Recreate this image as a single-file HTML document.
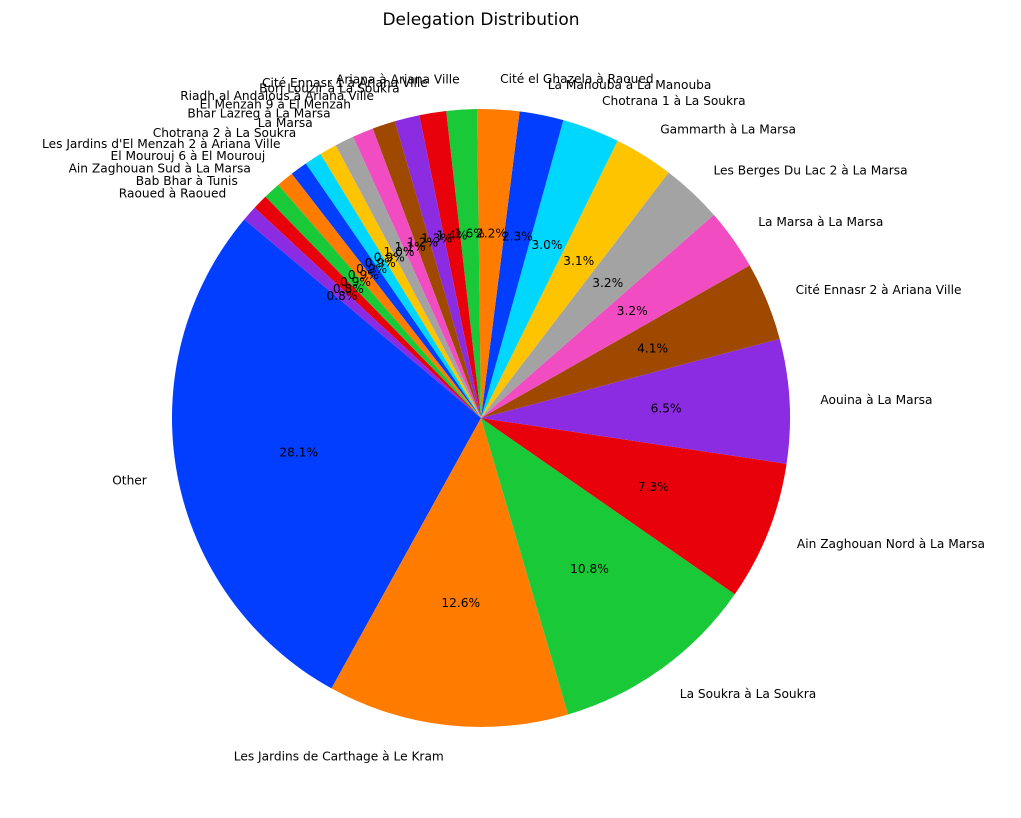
<!DOCTYPE html>
<html><head><meta charset="utf-8"><style>
html,body{margin:0;padding:0;background:#fff;}
svg text{font-family:"DejaVu Sans","Liberation Sans",sans-serif;}
</style></head><body>
<svg id="chart" width="1021" height="813" xmlns="http://www.w3.org/2000/svg">
<text x="481" y="25" text-anchor="middle" font-size="17" fill="#000">Delegation Distribution</text>
<g id="slices"></g><g id="labels"></g>
</svg>
<script>
const categories = ["Other","Les Jardins de Carthage à Le Kram","La Soukra à La Soukra","Ain Zaghouan Nord à La Marsa","Aouina à La Marsa","Cité Ennasr 2 à Ariana Ville","La Marsa à La Marsa","Les Berges Du Lac 2 à La Marsa","Gammarth à La Marsa","Chotrana 1 à La Soukra","La Manouba à La Manouba","Cité el Ghazela à Raoued","Ariana à Ariana Ville","Cité Ennasr 1 à Ariana Ville","Borj Louzir à La Soukra","Riadh al Andalous à Ariana Ville","El Menzah 9 à El Menzah","Bhar Lazreg à La Marsa","La Marsa","Chotrana 2 à La Soukra","Les Jardins d'El Menzah 2 à Ariana Ville","El Mourouj 6 à El Mourouj","Ain Zaghouan Sud à La Marsa","Bab Bhar à Tunis","Raoued à Raoued"];
const values = [28.1,12.6,10.8,7.3,6.5,4.1,3.2,3.2,3.1,3.0,2.3,2.2,1.6,1.4,1.3,1.2,1.1,1.0,0.9,0.9,0.9,0.9,0.9,0.8,0.8];
const palette = ["#023eff","#ff7c00","#1ac938","#e8000b","#8b2be2","#9f4800","#f14cc1","#a3a3a3","#ffc400","#00d7ff"];
const cx=481, cy=418, R=309, start=140;
const NS="http://www.w3.org/2000/svg";
const total=values.reduce((a,b)=>a+b,0);
const gS=document.getElementById('slices'), gL=document.getElementById('labels');
function pt(deg,r){const a=deg*Math.PI/180;return [cx+r*Math.cos(a), cy-r*Math.sin(a)];}
let ang=start;
values.forEach((v,i)=>{
  const sweep=v/total*360, a0=ang, a1=ang+sweep;
  const p0=pt(a0,R), p1=pt(a1,R);
  const path=document.createElementNS(NS,'path');
  path.setAttribute('d',`M${cx},${cy} L${p0[0]},${p0[1]} A${R},${R} 0 ${sweep>180?1:0} 0 ${p1[0]},${p1[1]} Z`);
  path.setAttribute('fill',palette[i%palette.length]);
  
  
  gS.appendChild(path);
  const mid=(a0+a1)/2;
  const lp=pt(mid,R*1.1);
  const t=document.createElementNS(NS,'text');
  t.setAttribute('x',lp[0]);t.setAttribute('y',lp[1]+4.5);
  t.setAttribute('font-size','12.2');
  t.setAttribute('text-anchor',lp[0]>=cx?'start':'end');
  t.textContent=categories[i];
  
  
  gL.appendChild(t);
  const pp=pt(mid,R*0.6);
  const p=document.createElementNS(NS,'text');
  p.setAttribute('x',pp[0]);p.setAttribute('y',pp[1]+4.5);
  p.setAttribute('font-size','12.2');p.setAttribute('text-anchor','middle');
  p.textContent=v.toFixed(1)+'%';
  
  
  gL.appendChild(p);
  ang=a1;
});
</script>
</body></html>
